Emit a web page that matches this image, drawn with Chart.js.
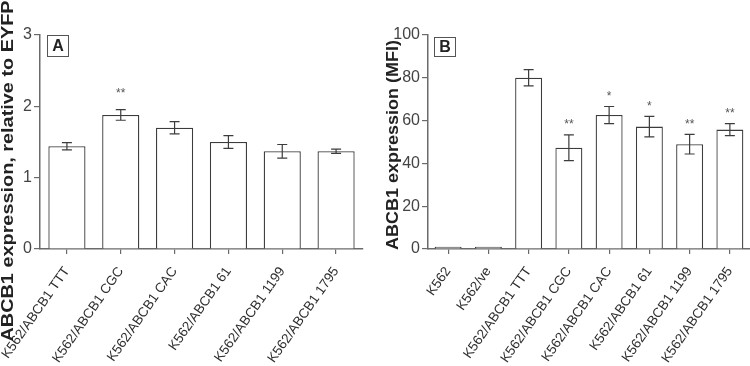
<!DOCTYPE html>
<html>
<head>
<meta charset="utf-8">
<script src="https://cdn.jsdelivr.net/npm/chart.js@4.4.1/dist/chart.umd.min.js"></script>
<style>
    html, body { margin: 0; padding: 0; background: #fff; }
    #wrap { display: flex; width: 750px; height: 366px; }
    .panel { position: relative; width: 375px; height: 366px; }
</style>
</head>
<body>
<div id="wrap">
    <div class="panel"><canvas id="chartA"></canvas></div>
    <div class="panel"><canvas id="chartB"></canvas></div>
</div>
<script>
// Panel A - relative expression
const labelsA = ['K562/ABCB1 TTT', 'K562/ABCB1 CGC', 'K562/ABCB1 CAC', 'K562/ABCB1 61', 'K562/ABCB1 1199', 'K562/ABCB1 1795'];
const valuesA = [1.44, 1.88, 1.70, 1.50, 1.37, 1.37];
const errorsA = [0.05, 0.075, 0.085, 0.09, 0.095, 0.03];
const starsA = ['', '**', '', '', '', ''];

// Panel B - MFI
const labelsB = ['K562', 'K562/ve', 'K562/ABCB1 TTT', 'K562/ABCB1 CGC', 'K562/ABCB1 CAC', 'K562/ABCB1 61', 'K562/ABCB1 1199', 'K562/ABCB1 1795'];
const valuesB = [1, 1, 80, 47.3, 62.6, 57.2, 49, 55.8];
const errorsB = [0, 0, 3.8, 6, 4, 4.8, 4.6, 2.8];
const starsB = ['', '', '', '**', '*', '*', '**', '**'];

const AXIS = '#6b6b6b';
const INK = '#3c3c3c';

// barras de error + asteriscos
const errorBars = {
    id: 'errorBars',
    afterDatasetsDraw: (chart, args, opts) => {
        const ctx = chart.ctx;
        const y = chart.scales.y;
        const meta = chart.getDatasetMeta(0);
        ctx.save();
        ctx.strokeStyle = INK;
        ctx.lineWidth = 1.2;
        meta.data.forEach((bar, i) => {
            const v = opts.values[i], e = opts.errors[i];
            const top = y.getPixelForValue(v + e);
            if (e > 0) {
                const bot = y.getPixelForValue(v - e);
                ctx.beginPath();
                ctx.moveTo(bar.x, top); ctx.lineTo(bar.x, bot);
                ctx.moveTo(bar.x - 5, top); ctx.lineTo(bar.x + 5, top);
                ctx.moveTo(bar.x - 5, bot); ctx.lineTo(bar.x + 5, bot);
                ctx.stroke();
            }
            if (opts.stars[i]) {
                ctx.fillStyle = '#555';
                ctx.font = '12px Arial, "Liberation Sans", sans-serif';
                ctx.textAlign = 'center';
                ctx.textBaseline = 'middle';
                ctx.fillText(opts.stars[i], bar.x, top - opts.starGap);
            }
        });
        ctx.restore();
    }
};

// etiqueta del panel (A / B) en caja
const panelTag = {
    id: 'panelTag',
    afterDraw: (chart, args, opts) => {
        const ctx = chart.ctx;
        const a = chart.chartArea;
        const x = a.left + opts.dx, yy = a.top + opts.dy;
        ctx.save();
        ctx.strokeStyle = '#555';
        ctx.lineWidth = 1;
        ctx.fillStyle = '#fff';
        ctx.fillRect(x, yy, opts.w, opts.h);
        ctx.strokeRect(x + 0.5, yy + 0.5, opts.w, opts.h);
        ctx.fillStyle = '#222';
        ctx.font = 'bold 16px Arial, "Liberation Sans", sans-serif';
        ctx.textAlign = 'center';
        ctx.textBaseline = 'middle';
        ctx.fillText(opts.text, x + opts.w / 2 + 0.5, yy + opts.h / 2 + 1.5);
        ctx.restore();
    }
};

// titulo del eje Y
const yTitle = {
    id: 'yTitle',
    afterDraw: (chart, args, opts) => {
        const ctx = chart.ctx;
        ctx.save();
        ctx.font = 'bold 17px Arial, "Liberation Sans", sans-serif';
        ctx.fillStyle = '#222';
        ctx.textAlign = 'center';
        ctx.textBaseline = 'middle';
        ctx.translate(opts.x, opts.y);
        ctx.rotate(-Math.PI / 2);
        const w = ctx.measureText(opts.text).width;
        ctx.scale(opts.length / w, 1);
        ctx.fillText(opts.text, 0, 0);
        ctx.restore();
    }
};

function makeChart(canvasId, labels, values, errors, stars, cfg) {
    const ctx = document.getElementById(canvasId);
    return new Chart(ctx, {
        type: 'bar',
        data: {
            labels: labels,
            datasets: [{
                data: values,
                backgroundColor: '#ffffff',
                borderColor: INK,
                borderWidth: 1.3,
                categoryPercentage: 1,
                barPercentage: cfg.barPct
            }]
        },
        options: {
            responsive: true,
            maintainAspectRatio: false,
            animation: false,
            layout: { padding: { top: 35, right: cfg.padRight, left: 0, bottom: 0 } },
            plugins: {
                legend: { display: false },
                tooltip: { enabled: false },
                errorBars: { values: values, errors: errors, stars: stars, starGap: cfg.starGap },
                panelTag: cfg.tag,
                yTitle: cfg.title
            },
            scales: {
                x: {
                    afterFit: (s) => { s.height = 117; s.paddingLeft = 0; s.paddingRight = 0; },
                    border: { color: AXIS, width: 1.5 },
                    grid: { offset: false, drawOnChartArea: false, tickLength: 5, color: AXIS, lineWidth: 1.2 },
                    ticks: {
                        minRotation: 55, maxRotation: 55, autoSkip: false, padding: 10,
                        color: '#2e2e2e',
                        font: { family: 'Arial, "Liberation Sans", sans-serif', size: 13.5 }
                    }
                },
                y: {
                    min: 0, max: cfg.yMax,
                    afterFit: (s) => { s.width = cfg.yWidth; },
                    border: { color: AXIS, width: 1.5 },
                    grid: { drawOnChartArea: false, tickLength: 6, color: AXIS, lineWidth: 1.2 },
                    ticks: {
                        stepSize: cfg.yStep, padding: 2,
                        color: '#444',
                        font: { family: 'Arial, "Liberation Sans", sans-serif', size: 16 }
                    }
                }
            }
        },
        plugins: [errorBars, panelTag, yTitle]
    });
}

makeChart('chartA', labelsA, valuesA, errorsA, starsA, {
    barPct: 0.69, padRight: 12, yMax: 3, yStep: 1, yWidth: 40, starGap: 16,
    tag: { text: 'A', dx: 7, dy: 0, w: 21, h: 21 },
    title: { text: 'ABCB1 expression, relative to EYFP', x: 8, y: 171, length: 341 }
});

makeChart('chartB', labelsB, valuesB, errorsB, starsB, {
    barPct: 0.67, padRight: 0, yMax: 100, yStep: 20, yWidth: 53, starGap: 10,
    tag: { text: 'B', dx: 6, dy: 2, w: 21, h: 19 },
    title: { text: 'ABCB1 expression (MFI)', x: 18, y: 145, length: 210 }
});
</script>
</body>
</html>
